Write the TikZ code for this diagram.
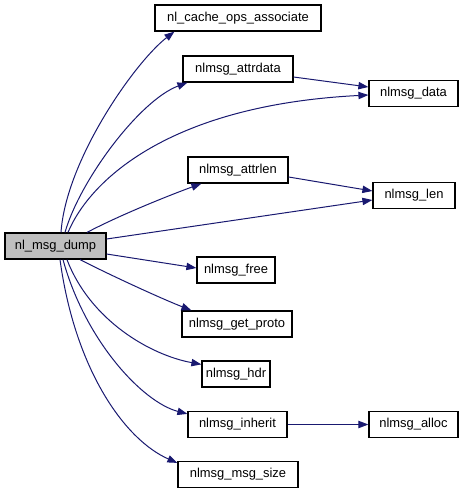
\documentclass[tikz,border=0pt]{standalone}
\usepackage{fontspec}
\setmainfont{Liberation Sans}
\usetikzlibrary{arrows.meta,calc}
\definecolor{edgeblue}{HTML}{191970}
\definecolor{mainfill}{HTML}{BFBFBF}
\begin{document}
\begin{tikzpicture}[x=0.75pt,y=-0.75pt,
  fn/.style={draw=black,line width=0.9pt,fill=white,inner sep=0pt,minimum height=19.5pt,
    font=\fontsize{9.7}{11}\selectfont},
  mainfn/.style={fn,fill=mainfill},
  call/.style={draw=edgeblue,line width=0.75pt,-{Triangle[length=7.5pt,width=5.5pt]},
    color=edgeblue}]
\useasboundingbox (0,0) rectangle (465,493);
\node[mainfn,minimum width=75.75pt] (dump) at (55.5,246) {nl\_msg\_dump};
\node[fn,minimum width=124.5pt] (cache) at (238,18) {nl\_cache\_ops\_associate};
\node[fn,minimum width=82.5pt] (attrdata) at (238,69) {nlmsg\_attrdata};
\node[fn,minimum width=66.75pt] (data) at (413.5,93.5) {nlmsg\_data};
\node[fn,minimum width=75pt] (attrlen) at (238,170) {nlmsg\_attrlen};
\node[fn,minimum width=61.5pt] (len) at (414,195.5) {nlmsg\_len};
\node[fn,minimum width=58.5pt] (free) at (236,270) {nlmsg\_free};
\node[fn,minimum width=82.5pt] (proto) at (237,324) {nlmsg\_get\_proto};
\node[fn,minimum width=51pt] (hdr) at (236,374) {nlmsg\_hdr};
\node[fn,minimum width=74.25pt] (inherit) at (237.5,424.5) {nlmsg\_inherit};
\node[fn,minimum width=66.75pt] (alloc) at (413.5,424.5) {nlmsg\_alloc};
\node[fn,minimum width=90pt] (msgsize) at (238,474.5) {nlmsg\_msg\_size};

\draw[call] ($(dump.north)+(5.5,0)$) .. controls (66,160) and (135,62) .. ($(cache.south west)+(20,0)$);
\draw[call] ($(dump.north)+(9.5,0)$) .. controls (80,180) and (140,100) .. ($(attrdata.south west)+(5,0)$);
\draw[call] ($(dump.north)+(12.5,0)$) .. controls (90,180) and (170,105) .. ($(data.west)+(0,1.5)$);
\draw[call] ($(dump.north)+(31.5,0)$) .. controls (120,215) and (170,195) .. ($(attrlen.south west)+(14,0)$);
\draw[call] ($(dump.east)+(0,-7)$) -- ($(len.west)+(0,4.5)$);
\draw[call] ($(dump.east)+(0,8)$) -- ($(free.west)+(0,-2)$);
\draw[call] ($(dump.south)+(24.5,0)$) .. controls (110,275) and (160,298) .. ($(proto.north west)+(10,0)$);
\draw[call] ($(dump.south)+(11.5,0)$) .. controls (90,320) and (150,355) .. ($(hdr.north west)+(0,4)$);
\draw[call] ($(dump.south)+(7.5,0)$) .. controls (85,340) and (142,402) .. ($(inherit.north west)+(0,3)$);
\draw[call] ($(dump.south)+(4.5,0)$) .. controls (75,370) and (125,440) .. ($(msgsize.north west)+(0,2)$);
\draw[call] ($(attrdata.east)+(0,8)$) -- ($(data.west)+(0,-6.5)$);
\draw[call] ($(attrlen.east)+(0,7)$) -- ($(len.west)+(0,-4.5)$);
\draw[call] (inherit.east) -- (alloc.west);
\end{tikzpicture}
\end{document}
